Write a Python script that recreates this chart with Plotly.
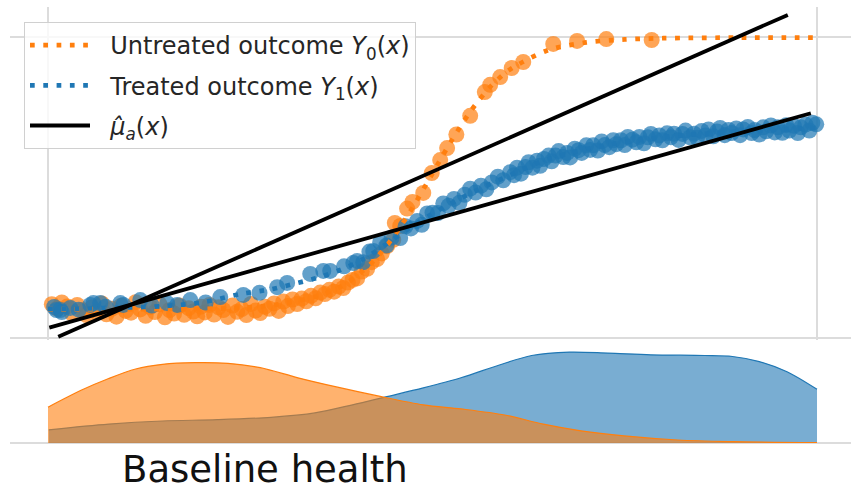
import numpy as np
import plotly.graph_objects as go

# ---- observed outcomes (baseline health x, outcome y) ----
untreated_x = [0.005, 0.012, 0.018, 0.025, 0.031, 0.038, 0.044, 0.050, 0.057, 0.063,
               0.070, 0.076, 0.083, 0.089, 0.095, 0.101, 0.108, 0.114, 0.120, 0.127,
               0.133, 0.139, 0.145, 0.152, 0.158, 0.164, 0.171, 0.177, 0.183, 0.189,
               0.194, 0.199,
               0.204, 0.210, 0.216, 0.222, 0.228, 0.234, 0.240, 0.246, 0.252, 0.258,
               0.264, 0.270, 0.276, 0.282, 0.288, 0.294, 0.300, 0.306, 0.312, 0.318,
               0.324, 0.330, 0.336, 0.342, 0.348, 0.354, 0.360, 0.366, 0.372, 0.378,
               0.384, 0.390, 0.396,
               0.402, 0.408, 0.415, 0.421, 0.428, 0.434, 0.441, 0.449, 0.451, 0.458,
               0.467, 0.474, 0.488, 0.499, 0.510, 0.519, 0.531, 0.549, 0.568, 0.575,
               0.588,
               0.603, 0.618, 0.657, 0.688, 0.726, 0.785]
untreated_y = [0.112, 0.098, 0.118, 0.105, 0.082, 0.110, 0.093, 0.076, 0.101, 0.088,
               0.115, 0.079, 0.097, 0.071, 0.107, 0.090, 0.084, 0.119, 0.095, 0.074,
               0.103, 0.086, 0.112, 0.069, 0.093, 0.081, 0.108, 0.077, 0.099, 0.088,
               0.072, 0.104,
               0.085, 0.110, 0.078, 0.102, 0.093, 0.070, 0.108, 0.087, 0.096, 0.076,
               0.113, 0.091, 0.083, 0.104, 0.097, 0.115, 0.090, 0.121, 0.106, 0.128,
               0.113, 0.131, 0.122, 0.140, 0.132, 0.151, 0.146, 0.160, 0.154, 0.171,
               0.166, 0.184, 0.193,
               0.198, 0.221, 0.230, 0.252, 0.262, 0.281, 0.305, 0.326, 0.382, 0.372,
               0.430, 0.452, 0.482, 0.548, 0.591, 0.631, 0.676, 0.738, 0.817, 0.841,
               0.867,
               0.897, 0.917, 0.977, 0.987, 0.993, 0.990]

treated_x = [0.008, 0.011, 0.016, 0.018, 0.029, 0.040, 0.055, 0.059, 0.068, 0.075,
             0.094, 0.098, 0.120, 0.135, 0.155, 0.168, 0.185, 0.205, 0.224, 0.254,
             0.275, 0.298, 0.311, 0.341, 0.358, 0.367, 0.385, 0.397,
             0.402, 0.410, 0.418, 0.423, 0.432, 0.440, 0.447, 0.458, 0.465, 0.472,
             0.480, 0.486, 0.493, 0.500, 0.507, 0.514, 0.521, 0.528, 0.535, 0.542,
             0.549, 0.556, 0.563, 0.570, 0.577, 0.585, 0.592,
             0.601, 0.606, 0.610, 0.615, 0.621, 0.625, 0.630, 0.636, 0.640, 0.645,
             0.651, 0.655, 0.660, 0.664, 0.670, 0.675, 0.679, 0.685, 0.690, 0.694,
             0.700, 0.705, 0.709, 0.715, 0.720, 0.724, 0.730, 0.735, 0.739, 0.745,
             0.750, 0.754, 0.760, 0.765, 0.769, 0.775, 0.780, 0.784, 0.790, 0.795,
             0.799, 0.805, 0.810, 0.814, 0.820, 0.825, 0.829, 0.835, 0.840, 0.844,
             0.850, 0.855, 0.859, 0.865, 0.870, 0.874, 0.880, 0.885, 0.889, 0.895,
             0.900, 0.904, 0.910, 0.915, 0.919, 0.925, 0.930, 0.934, 0.940, 0.945,
             0.949, 0.955, 0.960, 0.964, 0.970, 0.975, 0.979, 0.985, 0.990, 0.994,
             0.999]
treated_y = [0.103, 0.093, 0.093, 0.086, 0.100, 0.094, 0.110, 0.116, 0.116, 0.104,
             0.116, 0.110, 0.126, 0.108, 0.116, 0.110, 0.126, 0.118, 0.136, 0.143,
             0.150, 0.169, 0.183, 0.213, 0.223, 0.223, 0.238, 0.249,
             0.256, 0.252, 0.287, 0.289, 0.318, 0.307, 0.334, 0.332, 0.371, 0.364,
             0.389, 0.376, 0.414, 0.416, 0.415, 0.447, 0.439, 0.462, 0.449, 0.476,
             0.496, 0.483, 0.506, 0.494, 0.517, 0.536, 0.524,
             0.551, 0.541, 0.566, 0.546, 0.568, 0.584, 0.566, 0.589, 0.572, 0.595,
             0.606, 0.587, 0.606, 0.621, 0.601, 0.615, 0.600, 0.629, 0.624, 0.615,
             0.640, 0.625, 0.640, 0.623, 0.653, 0.641, 0.634, 0.657, 0.644, 0.657,
             0.641, 0.668, 0.659, 0.650, 0.668, 0.647, 0.667, 0.678, 0.660, 0.673,
             0.657, 0.680, 0.667, 0.679, 0.658, 0.678, 0.689, 0.667, 0.679, 0.665,
             0.688, 0.673, 0.693, 0.670, 0.686, 0.698, 0.674, 0.691, 0.681, 0.696,
             0.674, 0.693, 0.701, 0.681, 0.691, 0.676, 0.700, 0.687, 0.706, 0.683,
             0.700, 0.682, 0.707, 0.689, 0.705, 0.681, 0.700, 0.709, 0.689, 0.715,
             0.710]

# ---- true potential-outcome curves ----
y0_curve_x = [0.00, 0.10, 0.20, 0.25, 0.30, 0.35, 0.38, 0.40, 0.425, 0.45, 0.475,
              0.50, 0.525, 0.55, 0.575, 0.60, 0.65, 0.70, 0.75, 0.80, 0.90, 1.00]
y0_curve_y = [0.096, 0.096, 0.097, 0.100, 0.112, 0.139, 0.170, 0.203, 0.260, 0.339,
              0.437, 0.547, 0.657, 0.755, 0.834, 0.891, 0.956, 0.982, 0.992, 0.996,
              0.998, 0.998]
y1_curve_x = [0.00, 0.05, 0.10, 0.15, 0.20, 0.25, 0.29, 0.32, 0.35, 0.38, 0.41, 0.44,
              0.47, 0.50, 0.53, 0.56, 0.60, 0.64, 0.68, 0.72, 0.77, 0.82, 0.87, 0.93,
              1.00]
y1_curve_y = [0.097, 0.098, 0.101, 0.106, 0.118, 0.146, 0.162, 0.180, 0.200, 0.226,
              0.262, 0.312, 0.365, 0.413, 0.455, 0.494, 0.540, 0.585, 0.615, 0.638,
              0.658, 0.672, 0.681, 0.690, 0.698]

# ---- fitted linear models mu_hat_a(x): intercept, slope, x-extent ----
fit_untreated = {"intercept": -0.0108, "slope": 1.127, "x": [0.0134, 0.962]}
fit_treated = {"intercept": 0.033, "slope": 0.7193, "x": [0.0017, 0.992]}

# ---- density of baseline health per group ----
dens_untreated_x = [0.000, 0.043, 0.079, 0.114, 0.149, 0.191, 0.234, 0.276, 0.325, 0.375,
                    0.432, 0.488, 0.537, 0.594, 0.644, 0.693, 0.749, 0.819, 0.891, 1.000]
dens_untreated = [0.716, 1.054, 1.290, 1.480, 1.574, 1.608, 1.594, 1.506, 1.304, 1.122,
                  0.932, 0.764, 0.682, 0.560, 0.378, 0.244, 0.142, 0.060, 0.027, 0.006]
dens_treated_x = [0.001, 0.079, 0.149, 0.220, 0.290, 0.347, 0.396, 0.438, 0.488, 0.537,
                  0.587, 0.629, 0.678, 0.728, 0.784, 0.854, 0.890, 0.925, 0.961, 1.000]
dens_treated = [0.264, 0.378, 0.440, 0.466, 0.514, 0.602, 0.764, 0.918, 1.102, 1.304,
                1.560, 1.750, 1.818, 1.798, 1.764, 1.750, 1.730, 1.628, 1.426, 1.074]

legend_labels = ["Untreated outcome <i>Y</i><sub>0</sub>(<i>x</i>)",
                 "Treated outcome <i>Y</i><sub>1</sub>(<i>x</i>)",
                 "<i>μ̂</i><sub><i>a</i></sub>(<i>x</i>)"]

ORANGE = "#ff7f0e"
BLUE = "#1f77b4"
GRID = "#dcdcdc"
FONT = "DejaVu Sans"

W, H = 851, 493
X_RANGE = [-0.0494, 1.0442]
PAD = "&nbsp;&nbsp;"

fig = go.Figure()

# scatter of observed outcomes
fig.add_trace(go.Scatter(x=untreated_x, y=untreated_y, mode="markers",
                         marker=dict(size=16, color=ORANGE, opacity=0.7, line=dict(width=0)),
                         showlegend=False, xaxis="x", yaxis="y"))
fig.add_trace(go.Scatter(x=treated_x, y=treated_y, mode="markers",
                         marker=dict(size=16, color=BLUE, opacity=0.7, line=dict(width=0)),
                         showlegend=False, xaxis="x", yaxis="y"))

# true curves (dotted)
dot = "4.7px,8.6px"
fig.add_trace(go.Scatter(x=y0_curve_x, y=y0_curve_y, mode="lines",
                         line=dict(color=ORANGE, width=4.7, dash=dot, shape="spline", smoothing=0.8),
                         name=PAD + legend_labels[0], legendgroup="a", xaxis="x", yaxis="y"))
fig.add_trace(go.Scatter(x=y1_curve_x, y=y1_curve_y, mode="lines",
                         line=dict(color=BLUE, width=4.7, dash=dot, shape="spline", smoothing=0.8),
                         name=PAD + legend_labels[1], legendgroup="b", xaxis="x", yaxis="y"))

# fitted regression lines
for i, fit in enumerate([fit_untreated, fit_treated]):
    fx = np.array(fit["x"])
    fy = fit["intercept"] + fit["slope"] * fx
    fig.add_trace(go.Scatter(x=fx, y=fy, mode="lines",
                             line=dict(color="black", width=3.8),
                             name=PAD + legend_labels[2],
                             legendgroup="c", showlegend=(i == 0),
                             xaxis="x", yaxis="y"))

# density panel
fig.add_trace(go.Scatter(x=dens_treated_x, y=dens_treated, mode="lines",
                         line=dict(color=BLUE, width=1.2, shape="spline", smoothing=0.9),
                         fill="tozeroy", fillcolor="rgba(31,119,180,0.6)",
                         showlegend=False, xaxis="x2", yaxis="y2"))
fig.add_trace(go.Scatter(x=dens_untreated_x, y=dens_untreated, mode="lines",
                         line=dict(color=ORANGE, width=1.2, shape="spline", smoothing=0.9),
                         fill="tozeroy", fillcolor="rgba(255,127,14,0.6)",
                         showlegend=False, xaxis="x2", yaxis="y2"))

x_dom = [10 / W, 1.0]
axis_common = dict(showticklabels=False, ticks="", showline=False,
                   gridcolor=GRID, gridwidth=2)

fig.update_layout(
    width=W, height=H,
    margin=dict(l=0, r=0, t=0, b=0),
    paper_bgcolor="white", plot_bgcolor="white",
    font=dict(family=FONT, color="#262626"),
    xaxis=dict(domain=x_dom, range=X_RANGE, tickvals=[0, 1], showgrid=True,
               zeroline=False, anchor="y", **axis_common),
    yaxis=dict(domain=[(H - 339.5) / H, (H - 7) / H], range=[-0.005, 1.0997],
               tickvals=[0, 1], showgrid=True, zeroline=False, anchor="x", **axis_common),
    xaxis2=dict(domain=x_dom, range=X_RANGE, tickvals=[0, 1], showgrid=False,
                zeroline=False, anchor="y2", **axis_common),
    yaxis2=dict(domain=[(H - 443) / H, (H - 349) / H], range=[0, 1.88],
                tickvals=[0], showgrid=True, zeroline=True, zerolinecolor=GRID,
                zerolinewidth=2, anchor="x2", **axis_common),
    legend=dict(x=24 / W, y=1 - 22 / H, xanchor="left", yanchor="top",
                bgcolor="rgba(255,255,255,0.8)", bordercolor="#d0d0d0", borderwidth=1,
                font=dict(family=FONT, size=24, color="#262626"),
                itemwidth=60, tracegroupgap=6),
    showlegend=True,
)

fig.add_annotation(text="Baseline health", xref="paper", yref="paper",
                   x=265 / W, y=0, xanchor="center", yanchor="bottom",
                   showarrow=False, font=dict(family=FONT, size=37, color="#111111"))

fig.write_html("out.html")
